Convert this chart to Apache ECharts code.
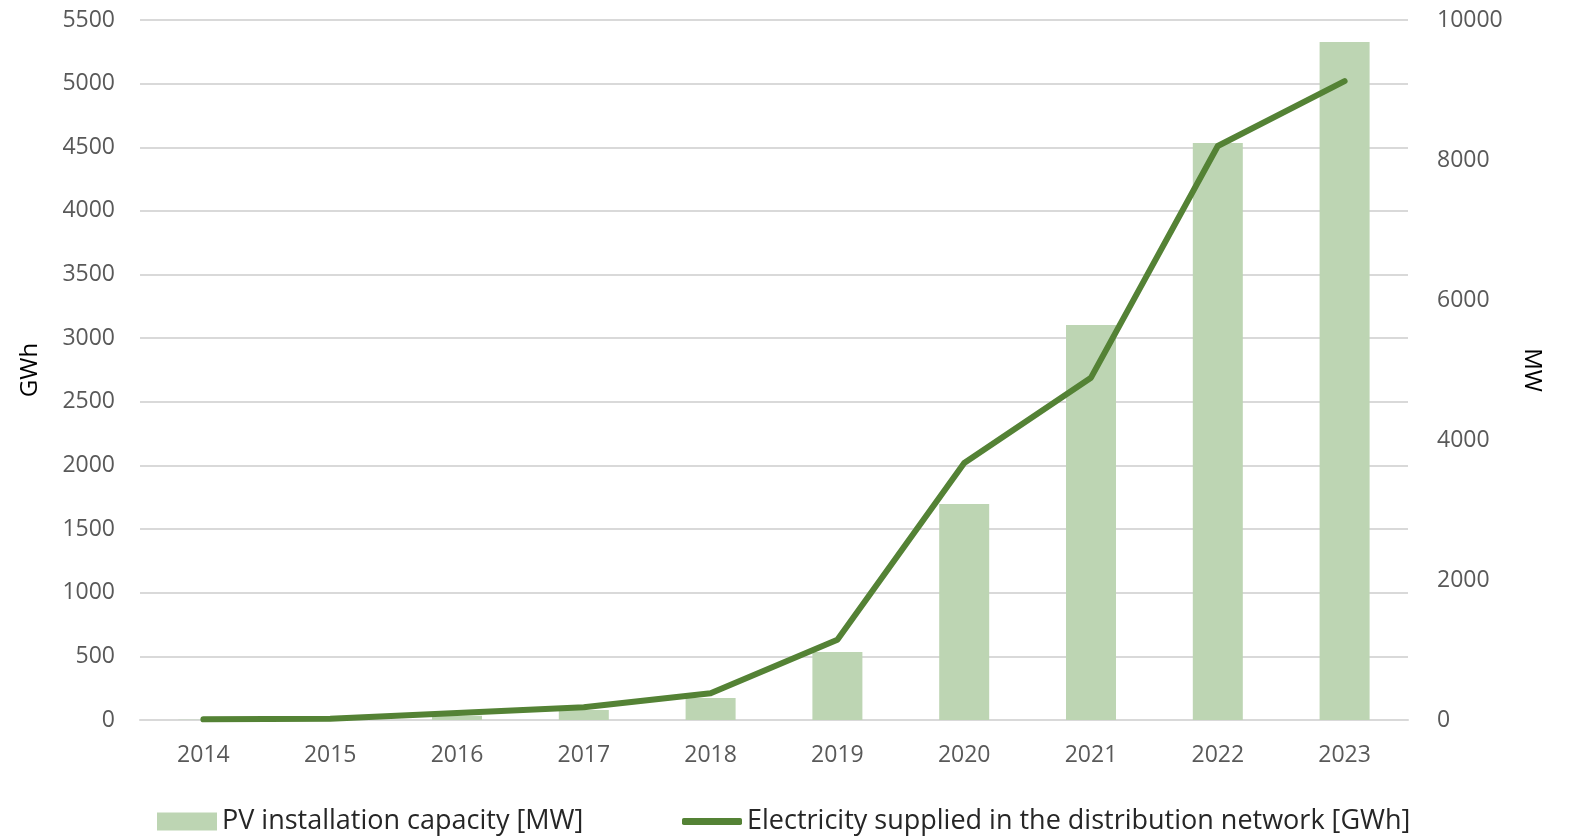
<!DOCTYPE html>
<html>
<head>
<meta charset="utf-8">
<script src="https://cdn.jsdelivr.net/npm/echarts@6/dist/echarts.min.js"></script>
<style>
  html, body { margin: 0; padding: 0; background: #fff; }
  #main { width: 1570px; height: 840px; }
</style>
</head>
<body>
<div id="main"></div>
<script>
// data
var years = ['2014', '2015', '2016', '2017', '2018', '2019', '2020', '2021', '2022', '2023'];
var capacityMW = [5, 15, 60, 143, 314, 971, 3086, 5643, 8243, 9686];
var supplyGWh = [5, 10, 55, 100, 210, 630, 2020, 2690, 4510, 5020];

var barName = 'PV installation capacity [MW]';
var lineName = 'Electricity supplied in the distribution network [GWh]';

var myChart = echarts.init(document.getElementById('main'));

var tickFont = { color: '#595959', fontSize: 23, fontFamily: 'Open Sans' };
var legendFont = { fontSize: 27, color: '#262626', fontFamily: 'Open Sans' };
var plain = function (v) { return String(v); };

var option = {
    animation: false,
    grid: { left: 140, right: 162, top: 20, bottom: 120 },
    legend: [
        {
            data: [{ name: barName, icon: 'rect' }],
            left: 152, top: 803,
            itemWidth: 60, itemHeight: 18, itemGap: 10,
            textStyle: legendFont
        },
        {
            data: [{ name: lineName, icon: 'roundRect' }],
            left: 677, top: 803,
            itemWidth: 60, itemHeight: 7,
            textStyle: legendFont
        }
    ],
    xAxis: {
        type: 'category',
        data: years,
        axisLine: { lineStyle: { color: '#d9d9d9', width: 2 } },
        axisTick: { show: false },
        axisLabel: Object.assign({ margin: 24 }, tickFont)
    },
    yAxis: [
        {
            type: 'value',
            name: 'GWh',
            nameLocation: 'middle',
            nameGap: 98,
            nameTextStyle: { fontSize: 24, color: '#000', fontFamily: 'Open Sans' },
            min: 0, max: 5500, interval: 500,
            axisLabel: Object.assign({ margin: 25, formatter: plain }, tickFont),
            splitLine: { lineStyle: { color: '#d9d9d9', width: 2 } }
        },
        {
            type: 'value',
            name: 'MW',
            nameLocation: 'middle',
            nameRotate: -90,
            nameGap: 112,
            nameTextStyle: { fontSize: 24, color: '#000', fontFamily: 'Open Sans' },
            min: 0, max: 10000, interval: 2000,
            axisLabel: Object.assign({ margin: 29, formatter: plain }, tickFont),
            splitLine: { show: false }
        }
    ],
    series: [
        {
            name: barName,
            type: 'bar',
            yAxisIndex: 1,
            data: capacityMW,
            barWidth: 50,
            itemStyle: { color: '#bdd5b3' }
        },
        {
            name: lineName,
            type: 'line',
            yAxisIndex: 0,
            data: supplyGWh,
            symbol: 'none',
            lineStyle: { color: '#548235', width: 6, cap: 'round', join: 'round' },
            itemStyle: { color: '#548235' }
        }
    ]
};

myChart.setOption(option);
</script>
</body>
</html>
